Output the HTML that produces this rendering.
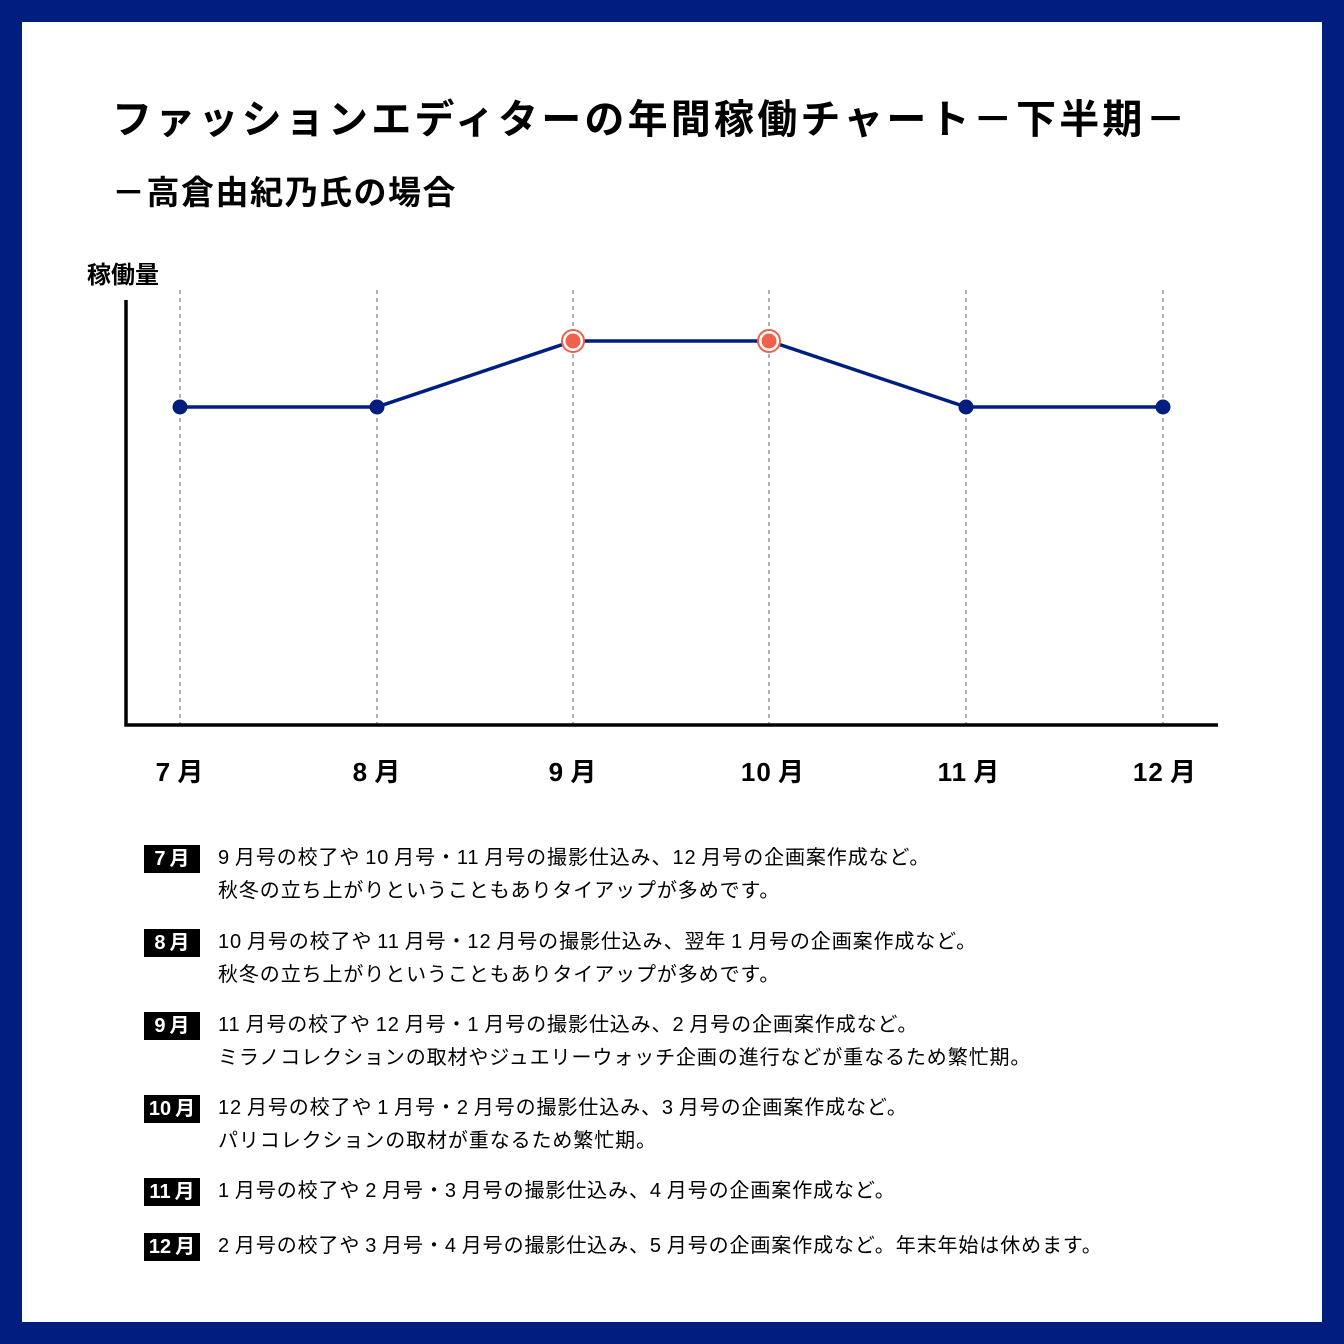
<!DOCTYPE html>
<html><head><meta charset="utf-8"><style>
*{margin:0;padding:0;box-sizing:border-box}
body{width:1344px;height:1344px;background:#001e80;position:relative;overflow:hidden;font-family:"Liberation Sans","Noto Sans CJK JP",sans-serif;color:#000}
.in{position:absolute;left:22px;top:22px;width:1300px;height:1300px;background:#fff}
.t{position:absolute;white-space:nowrap}
.h1{left:112px;top:94px;font-size:40px;font-weight:bold;letter-spacing:3.2px;line-height:52px}
.h2{left:112px;top:170px;font-size:33px;font-weight:bold;letter-spacing:1.5px;line-height:46px}
.yl{left:87px;top:260px;font-size:24px;font-weight:bold;line-height:32px}
.ml{top:754px;font-size:26px;font-weight:bold;width:120px;text-align:center;line-height:36px;letter-spacing:1px}
.b{position:absolute;left:144px;width:56px;height:28px;background:#000;color:#fff;font-weight:bold;font-size:20px;text-align:center;line-height:28px}
.d{position:absolute;left:218px;font-size:20px;line-height:33px;letter-spacing:0.9px;white-space:nowrap}
</style></head><body><div class="in"></div>
<div class="t h1">ファッションエディターの年間稼働チャート－下半期－</div>
<div class="t h2">－高倉由紀乃氏の場合</div>
<div class="t yl">稼働量</div>
<svg style="position:absolute;left:0;top:0" width="1344" height="1344">
<g stroke="#999" stroke-width="1.5" stroke-dasharray="4,4">
<line x1="180" y1="290" x2="180" y2="724"/><line x1="377" y1="290" x2="377" y2="724"/><line x1="573" y1="290" x2="573" y2="724"/><line x1="769" y1="290" x2="769" y2="724"/><line x1="966" y1="290" x2="966" y2="724"/><line x1="1163" y1="290" x2="1163" y2="724"/>
</g>
<polyline points="126,300 126,725 1218,725" fill="none" stroke="#000" stroke-width="3.5"/>
<polyline points="180,407 377,407 573,341 769,341 966,407 1163,407" fill="none" stroke="#001e80" stroke-width="3.5"/>
<g fill="#001e80"><circle cx="180" cy="407" r="7.5"/><circle cx="377" cy="407" r="7.5"/><circle cx="966" cy="407" r="7.5"/><circle cx="1163" cy="407" r="7.5"/></g>
<g><circle cx="573" cy="341" r="11" fill="#fff" stroke="#f0604a" stroke-width="2"/><circle cx="573" cy="341" r="7.5" fill="#f0604a"/>
<circle cx="769" cy="341" r="11" fill="#fff" stroke="#f0604a" stroke-width="2"/><circle cx="769" cy="341" r="7.5" fill="#f0604a"/></g>
</svg>
<div class="t ml" style="left:120px">7&thinsp;月</div>
<div class="t ml" style="left:317px">8&thinsp;月</div>
<div class="t ml" style="left:513px">9&thinsp;月</div>
<div class="t ml" style="left:713px">10&thinsp;月</div>
<div class="t ml" style="left:909px">11&thinsp;月</div>
<div class="t ml" style="left:1105px">12&thinsp;月</div>
<div class="b" style="top:845px">7&thinsp;月</div>
<div class="d" style="top:842px">9&thinsp;月号の校了や&thinsp;10&thinsp;月号・11&thinsp;月号の撮影仕込み、12&thinsp;月号の企画案作成など。<br>秋冬の立ち上がりということもありタイアップが多めです。</div>
<div class="b" style="top:929px">8&thinsp;月</div>
<div class="d" style="top:926px">10&thinsp;月号の校了や&thinsp;11&thinsp;月号・12&thinsp;月号の撮影仕込み、翌年&thinsp;1&thinsp;月号の企画案作成など。<br>秋冬の立ち上がりということもありタイアップが多めです。</div>
<div class="b" style="top:1012px">9&thinsp;月</div>
<div class="d" style="top:1009px">11&thinsp;月号の校了や&thinsp;12&thinsp;月号・1&thinsp;月号の撮影仕込み、2&thinsp;月号の企画案作成など。<br>ミラノコレクションの取材やジュエリーウォッチ企画の進行などが重なるため繁忙期。</div>
<div class="b" style="top:1095px">10&thinsp;月</div>
<div class="d" style="top:1092px">12&thinsp;月号の校了や&thinsp;1&thinsp;月号・2&thinsp;月号の撮影仕込み、3&thinsp;月号の企画案作成など。<br>パリコレクションの取材が重なるため繁忙期。</div>
<div class="b" style="top:1178px">11&thinsp;月</div>
<div class="d" style="top:1175px">1&thinsp;月号の校了や&thinsp;2&thinsp;月号・3&thinsp;月号の撮影仕込み、4&thinsp;月号の企画案作成など。</div>
<div class="b" style="top:1233px">12&thinsp;月</div>
<div class="d" style="top:1230px">2&thinsp;月号の校了や&thinsp;3&thinsp;月号・4&thinsp;月号の撮影仕込み、5&thinsp;月号の企画案作成など。年末年始は休めます。</div>
</body></html>
